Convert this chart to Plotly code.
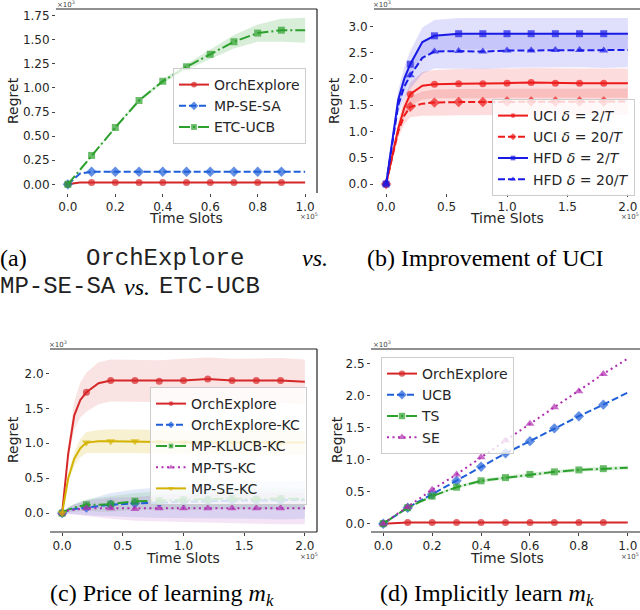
import plotly.graph_objects as go

# %%
# (a) OrchExplore vs. MP-SE-SA vs. ETC-UCB   (x in 1e5 slots, y in 1e3)
xa = [0, 0.05, 0.1, 0.2, 0.3, 0.4, 0.5, 0.6, 0.7, 0.8, 0.9, 1.0]
xa_marks = [0, 0.1, 0.2, 0.3, 0.4, 0.5, 0.6, 0.7, 0.8, 0.9]
a_orch = [0, 0.02, 0.02, 0.02, 0.02, 0.02, 0.02, 0.02, 0.02, 0.02, 0.02, 0.02]
a_sesa = [0, 0.11, 0.13, 0.13, 0.13, 0.13, 0.13, 0.13, 0.13, 0.13, 0.13, 0.13]
a_etc = [0, 0.15, 0.30, 0.59, 0.87, 1.07, 1.22, 1.35, 1.48, 1.57, 1.60, 1.60]
a_etc_sd = [0, 0, 0.005, 0.01, 0.015, 0.02, 0.03, 0.05, 0.07, 0.09, 0.12, 0.13]

# (b) Improvement of UCI
xb = [0, 0.05, 0.1, 0.15, 0.2, 0.3, 0.4, 0.6, 0.8, 1.0, 1.2, 1.4, 1.6, 1.8, 2.0]
xb_marks = [0, 0.2, 0.4, 0.6, 0.8, 1.0, 1.2, 1.4, 1.6, 1.8]
b_uci2 = [0, 0.55, 1.05, 1.45, 1.71, 1.87, 1.90, 1.91, 1.91, 1.92, 1.93, 1.92, 1.92, 1.92, 1.92]
b_uci20 = [0, 0.50, 1.00, 1.30, 1.47, 1.53, 1.55, 1.56, 1.56, 1.57, 1.57, 1.57, 1.57, 1.57, 1.57]
b_hfd2 = [0, 0.85, 1.60, 2.00, 2.28, 2.70, 2.82, 2.86, 2.86, 2.86, 2.86, 2.86, 2.86, 2.86, 2.86]
b_hfd20 = [0, 0.80, 1.50, 1.85, 2.07, 2.40, 2.52, 2.53, 2.52, 2.54, 2.54, 2.55, 2.55, 2.54, 2.55]
b_uci2_sd = [0, 0.07, 0.13, 0.18, 0.22, 0.26, 0.27, 0.28, 0.28, 0.28, 0.28, 0.28, 0.28, 0.28, 0.28]
b_uci20_sd = [0, 0.06, 0.12, 0.16, 0.20, 0.23, 0.25, 0.25, 0.25, 0.25, 0.25, 0.25, 0.25, 0.25, 0.25]
b_hfd2_sd = [0, 0.10, 0.18, 0.22, 0.25, 0.28, 0.30, 0.30, 0.30, 0.30, 0.30, 0.30, 0.30, 0.30, 0.30]
b_hfd20_sd = [0, 0.10, 0.17, 0.22, 0.26, 0.30, 0.32, 0.33, 0.33, 0.33, 0.33, 0.33, 0.33, 0.33, 0.33]

# (c) Price of learning m_k
xc = [0, 0.05, 0.1, 0.15, 0.2, 0.3, 0.4, 0.6, 0.8, 1.0, 1.2, 1.4, 1.6, 1.8, 2.0]
xc_marks = [0, 0.2, 0.4, 0.6, 0.8, 1.0, 1.2, 1.4, 1.6, 1.8]
c_orch = [0, 0.85, 1.40, 1.62, 1.73, 1.86, 1.90, 1.90, 1.89, 1.90, 1.92, 1.90, 1.90, 1.90, 1.88]
c_orchkc = [0, 0.04, 0.06, 0.07, 0.08, 0.10, 0.12, 0.14, 0.15, 0.17, 0.18, 0.18, 0.18, 0.18, 0.19]
c_klucb = [0, 0.05, 0.08, 0.10, 0.12, 0.12, 0.13, 0.17, 0.18, 0.19, 0.19, 0.21, 0.20, 0.21, 0.20]
c_ts = [0, 0.04, 0.05, 0.06, 0.07, 0.07, 0.07, 0.06, 0.07, 0.07, 0.07, 0.07, 0.07, 0.07, 0.07]
c_se = [0, 0.50, 0.78, 0.93, 1.01, 1.03, 1.03, 1.03, 1.02, 1.01, 1.01, 1.01, 1.01, 1.01, 1.01]
c_orch_sd = [0, 0.10, 0.20, 0.25, 0.28, 0.30, 0.30, 0.30, 0.30, 0.31, 0.31, 0.31, 0.32, 0.32, 0.32]
c_orchkc_sd = [0, 0.04, 0.07, 0.09, 0.11, 0.14, 0.17, 0.20, 0.22, 0.24, 0.25, 0.26, 0.26, 0.27, 0.27]
c_klucb_sd = [0, 0.03, 0.05, 0.07, 0.08, 0.10, 0.11, 0.12, 0.13, 0.14, 0.14, 0.15, 0.15, 0.15, 0.15]
c_ts_sd = [0, 0.04, 0.07, 0.09, 0.11, 0.13, 0.15, 0.17, 0.19, 0.20, 0.21, 0.22, 0.22, 0.23, 0.23]
c_se_sd = [0, 0.06, 0.10, 0.13, 0.15, 0.16, 0.17, 0.17, 0.17, 0.17, 0.17, 0.17, 0.17, 0.17, 0.17]

# (d) Implicitly learn m_k
xd = [0, 0.1, 0.2, 0.3, 0.4, 0.5, 0.6, 0.7, 0.8, 0.9, 1.0]
xd_marks = [0, 0.1, 0.2, 0.3, 0.4, 0.5, 0.6, 0.7, 0.8, 0.9]
d_orch = [0, 0.02, 0.02, 0.02, 0.02, 0.02, 0.02, 0.02, 0.02, 0.02, 0.02]
d_ucb = [0, 0.25, 0.46, 0.67, 0.89, 1.10, 1.29, 1.49, 1.68, 1.86, 2.05]
d_ts = [0, 0.25, 0.43, 0.57, 0.67, 0.72, 0.77, 0.81, 0.84, 0.86, 0.875]
d_se = [0, 0.26, 0.53, 0.77, 1.04, 1.30, 1.56, 1.82, 2.07, 2.34, 2.58]
d_ts_sd = [0, 0.01, 0.02, 0.02, 0.03, 0.03, 0.03, 0.03, 0.03, 0.03, 0.03]


# %%
RED = '#d62728'
BLUE = '#1f5fd8'
GREEN = '#2ca02c'
PURPLE = '#b02cb0'
YELLOW = '#d4b300'
BRED = '#ee1b1b'
BBLUE = '#1a1ae6'

DASH = '7px,3px'
DASHDOT = '11px,3px,2px,3px'
DOT = '2px,3.5px'

FONT = 'DejaVu Sans, sans-serif'

fig = go.Figure()


def add_band(x, y, sd, color, ax):
    up = [v + s for v, s in zip(y, sd)]
    lo = [v - s for v, s in zip(y, sd)]
    fig.add_trace(go.Scatter(
        x=list(x) + list(x)[::-1], y=up + lo[::-1],
        fill='toself', fillcolor=color, line=dict(width=0),
        mode='lines', hoverinfo='skip', showlegend=False,
        xaxis='x' + ax, yaxis='y' + ax))


def add_line(x, y, marks, name, color, dash, symbol, ax, legend, msize=7):
    sizes = [msize if v in marks else 0 for v in x]
    fig.add_trace(go.Scatter(
        x=x, y=y, name=name, mode='lines+markers',
        line=dict(color=color, width=2, dash=dash),
        marker=dict(symbol=symbol, size=sizes, color=color,
                    line=dict(width=0)),
        legend=legend, xaxis='x' + ax, yaxis='y' + ax))


# panel a
add_band(xa, a_etc, a_etc_sd, 'rgba(44,160,44,0.18)', '')
add_line(xa, a_orch, xa_marks, 'OrchExplore', RED, 'solid', 'circle', '', 'legend')
add_line(xa, a_sesa, xa_marks, 'MP-SE-SA', BLUE, DASH, 'diamond', '', 'legend', 8)
add_line(xa, a_etc, xa_marks, 'ETC-UCB', GREEN, DASHDOT, 'square', '', 'legend')

# panel b
add_band(xb, b_uci2, b_uci2_sd, 'rgba(240,60,60,0.18)', '2')
add_band(xb, b_uci20, b_uci20_sd, 'rgba(240,60,60,0.18)', '2')
add_band(xb, b_hfd2, b_hfd2_sd, 'rgba(60,60,240,0.16)', '2')
add_band(xb, b_hfd20, b_hfd20_sd, 'rgba(60,60,240,0.16)', '2')
add_line(xb, b_uci2, xb_marks, 'UCI <i>δ</i> = 2/<i>T</i>', BRED, 'solid', 'circle', '2', 'legend2')
add_line(xb, b_uci20, xb_marks, 'UCI <i>δ</i> = 20/<i>T</i>', BRED, DASH, 'diamond', '2', 'legend2', 8)
add_line(xb, b_hfd2, xb_marks, 'HFD <i>δ</i> = 2/<i>T</i>', BBLUE, 'solid', 'square', '2', 'legend2')
add_line(xb, b_hfd20, xb_marks, 'HFD <i>δ</i> = 20/<i>T</i>', BBLUE, DASH, 'triangle-up', '2', 'legend2', 8)

# panel c
add_band(xc, c_orch, c_orch_sd, 'rgba(214,39,40,0.13)', '3')
add_band(xc, c_se, c_se_sd, 'rgba(212,179,0,0.18)', '3')
add_band(xc, c_orchkc, c_orchkc_sd, 'rgba(31,95,216,0.13)', '3')
add_band(xc, c_klucb, c_klucb_sd, 'rgba(44,160,44,0.13)', '3')
add_band(xc, c_ts, c_ts_sd, 'rgba(176,44,176,0.13)', '3')
add_line(xc, c_orch, xc_marks, 'OrchExplore', RED, 'solid', 'circle', '3', 'legend3')
add_line(xc, c_orchkc, xc_marks, 'OrchExplore-KC', BLUE, DASH, 'diamond', '3', 'legend3', 8)
add_line(xc, c_klucb, xc_marks, 'MP-KLUCB-KC', GREEN, DASHDOT, 'square', '3', 'legend3')
add_line(xc, c_ts, xc_marks, 'MP-TS-KC', PURPLE, DOT, 'triangle-up', '3', 'legend3', 8)
add_line(xc, c_se, xc_marks, 'MP-SE-KC', YELLOW, 'solid', 'triangle-down', '3', 'legend3', 8)

# panel d
add_band(xd, d_ts, d_ts_sd, 'rgba(44,160,44,0.18)', '4')
add_line(xd, d_orch, xd_marks, 'OrchExplore', RED, 'solid', 'circle', '4', 'legend4')
add_line(xd, d_ucb, xd_marks, 'UCB', BLUE, DASH, 'diamond', '4', 'legend4', 8)
add_line(xd, d_ts, xd_marks, 'TS', GREEN, DASHDOT, 'square', '4', 'legend4')
add_line(xd, d_se, xd_marks, 'SE', PURPLE, DOT, 'triangle-up', '4', 'legend4', 8)


# %%
def axis(domain, anchor, rng, dtick, fmt):
    return dict(domain=domain, anchor=anchor, range=rng, dtick=dtick,
                tickformat=fmt, showgrid=False, zeroline=False,
                showline=False, ticks='outside', ticklen=3, tickwidth=1,
                tickcolor='#444', tickfont=dict(family=FONT, size=12,
                                                color='#262626'))


W, H = 640, 610


def px_x(p):
    return p / W


def px_y(p):
    return 1 - p / H


layout_axes = dict(
    xaxis=axis([px_x(56), px_x(317)], 'y', [-0.05, 1.05], 0.2, '.1f'),
    yaxis=axis([px_y(193), px_y(9)], 'x', [-0.09, 1.82], 0.25, '.2f'),
    xaxis2=axis([px_x(374), 1.0], 'y2', [-0.1, 2.1], 0.5, '.1f'),
    yaxis2=axis([px_y(193), px_y(9)], 'x2', [-0.17, 3.33], 0.5, '.1f'),
    xaxis3=axis([px_x(50), px_x(317)], 'y3', [-0.1, 2.1], 0.5, '.1f'),
    yaxis3=axis([px_y(532), px_y(349)], 'x3', [-0.27, 2.35], 0.5, '.1f'),
    xaxis4=axis([px_x(371), 1.0], 'y4', [-0.05, 1.05], 0.2, '.1f'),
    yaxis4=axis([px_y(532), px_y(349)], 'x4', [-0.13, 2.73], 0.5, '.1f'),
)

leg = dict(bgcolor='rgba(255,255,255,0.8)', bordercolor='#cccccc',
           borderwidth=1, font=dict(family=FONT, size=14, color='#262626'),
           xanchor='left', yanchor='top', tracegroupgap=0, itemwidth=30)

fig.update_layout(
    width=W, height=H, margin=dict(l=0, r=0, t=0, b=0),
    paper_bgcolor='white', plot_bgcolor='white',
    legend=dict(leg, x=px_x(173), y=px_y(68)),
    legend2=dict(leg, x=px_x(492), y=px_y(99)),
    legend3=dict(leg, x=px_x(150), y=px_y(387)),
    legend4=dict(leg, x=px_x(381), y=px_y(357)),
    **layout_axes
)

# spines
spines = {'': ['top', 'right'], '2': ['top'], '3': ['top', 'right', 'bottom'],
          '4': ['top', 'bottom']}
seg = {'top': (0, 1, 1, 1), 'right': (1, 0, 1, 1), 'bottom': (0, 0, 1, 0)}
for ax, sides in spines.items():
    for s in sides:
        x0, y0, x1, y1 = seg[s]
        fig.add_shape(type='line', xref='x' + ax + ' domain',
                      yref='y' + ax + ' domain', x0=x0, y0=y0, x1=x1, y1=y1,
                      line=dict(color='#222', width=1.2))


def note(text, x, y, font, anchor='center', angle=0):
    fig.add_annotation(text=text, x=px_x(x), y=px_y(y), xref='paper',
                       yref='paper', showarrow=False, font=font,
                       textangle=angle, xanchor=anchor, yanchor='middle')


# axis titles and scale markers
lab = dict(family=FONT, size=14, color='#262626')
small = dict(family=FONT, size=7, color='#444')
for xc_, yc_ in [(13, 101), (334, 101), (13, 440), (337, 440)]:
    note('Regret', xc_, yc_, lab, angle=-90)
for xc_, yc_ in [(186, 218), (507, 218), (183, 558), (507, 558)]:
    note('Time Slots', xc_, yc_, lab)
for xc_, yc_ in [(66, 4), (382, 4), (58, 344), (382, 344)]:
    note('×10<sup>3</sup>', xc_, yc_, small)
for xc_, yc_ in [(309, 216), (630, 216), (309, 556), (630, 556)]:
    note('×10<sup>5</sup>', xc_, yc_, small)

# captions
serif = dict(family='Liberation Serif, Times New Roman, serif', size=24,
             color='black')
mono = dict(family='Liberation Mono, Courier New, monospace', size=24,
            color='#222')

note('(a)', -2, 258, serif, 'left')
note('OrchExplore', 84, 258, mono, 'left')
note('<i>vs.</i>', 330, 258, serif, 'right')
note('MP-SE-SA', -2, 287, mono, 'left')
note('<i>vs.</i>', 122, 287, serif, 'left')
note('ETC-UCB', 157, 287, mono, 'left')
note('(b) Improvement of UCI', 365, 258, serif, 'left')
note('(c) Price of learning <i>m<sub>k</sub></i>', 162, 595, serif)
note('(d) Implicitly learn <i>m<sub>k</sub></i>', 487, 595, serif)

fig.write_html("out.html", config={'displayModeBar': False},
               post_script="document.body.style.margin='0px';")
